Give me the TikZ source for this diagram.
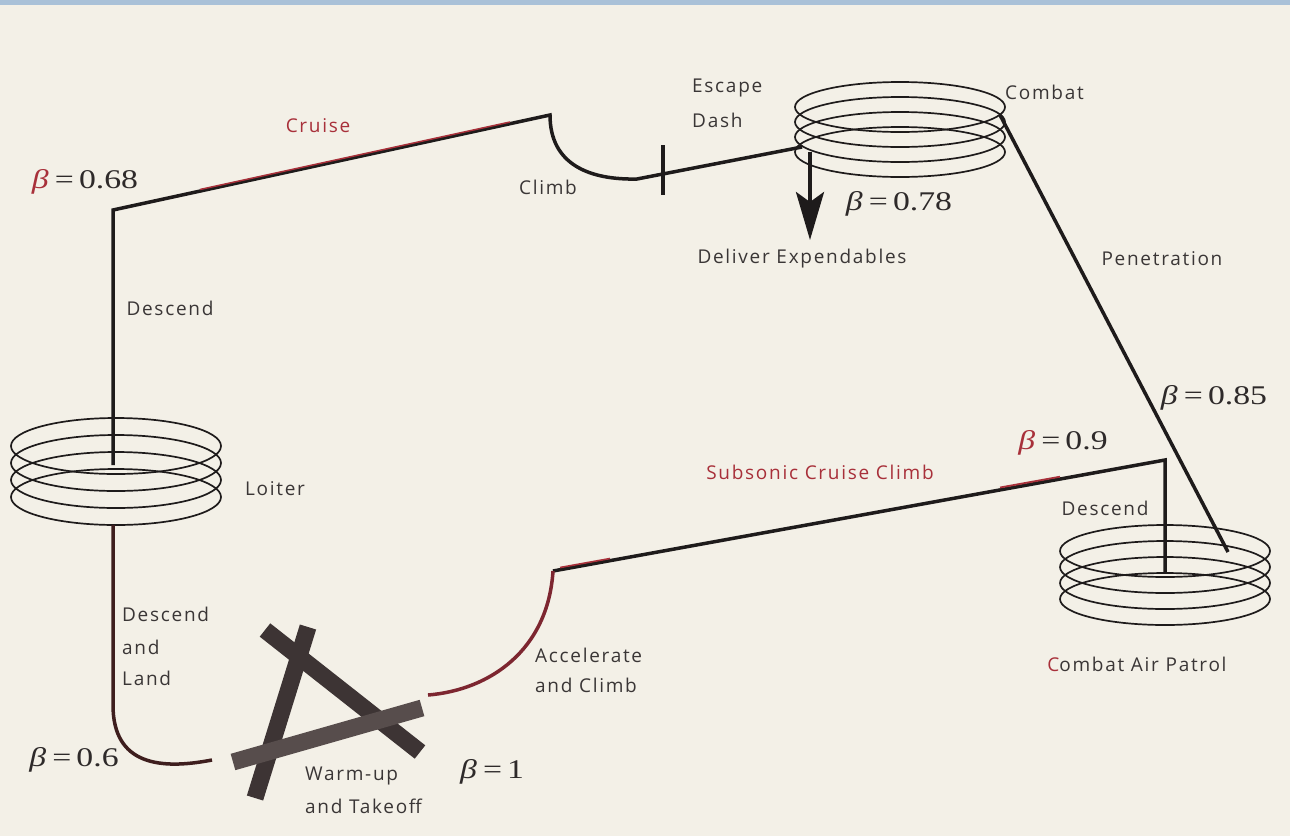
\documentclass[tikz,border=0pt]{standalone}
\usepackage{fontspec}
\setmainfont{Open Sans}[LetterSpace=9]
\newfontfamily\betafont{Liberation Serif}
\usetikzlibrary{arrows.meta}
\definecolor{paper}{HTML}{F3F0E7}
\definecolor{topbar}{HTML}{A9C1D8}
\definecolor{ink}{HTML}{1E1B1B}
\definecolor{txt}{HTML}{3A3636}
\definecolor{betaink}{HTML}{2E2A2A}
\definecolor{redink}{HTML}{A8303A}
\definecolor{darkred}{HTML}{7D2630}
\definecolor{brownink}{HTML}{3E1E1E}
\definecolor{barcol}{HTML}{3D3434}
\definecolor{barlight}{HTML}{574D4C}
\newcommand{\bt}{\textit{β}}
\newcommand{\blab}[2]{\scalebox{1.25}[1]{#1\kern5pt=\kern4pt#2}}
\tikzset{
  lbl/.style={font=\fontsize{19}{22}\selectfont, text=txt, inner sep=0pt},
  redlbl/.style={lbl, text=redink},
  betalbl/.style={font=\betafont\fontsize{27}{31}\selectfont, text=betaink, inner sep=0pt},
  route/.style={draw=ink, line width=3.5pt, line join=miter},
  coilline/.style={draw=ink, line width=1.7pt},
  tobar/.style={draw=barcol, line width=17pt},
}
\begin{document}
\begin{tikzpicture}[x=1pt,y=-1pt]
\fill[paper] (0,0) rectangle (1290,836);
\fill[topbar] (0,0) rectangle (1290,5);
\useasboundingbox (0,0) rectangle (1290,836);

% coils
\foreach \k in {0,...,3} \draw[coilline] (116,446+\k*17) ellipse [x radius=105, y radius=28];
\foreach \k in {0,...,3} \draw[coilline] (900,107+\k*15) ellipse [x radius=105, y radius=25];
\foreach \k in {0,...,3} \draw[coilline] (1165,551+\k*16) ellipse [x radius=105, y radius=26];

% key points
\coordinate (loitIn) at (113,465);
\coordinate (c68) at (113,210);
\coordinate (cruiseEnd) at (550,115);
\coordinate (climbEnd) at (637,179);
\coordinate (combIn) at (802,147);
\coordinate (combOut) at (1000,115);
\coordinate (capIn) at (1228,552);
\coordinate (capTop) at (1165,460);
\coordinate (capMid) at (1165,572);
\coordinate (accTop) at (553,571);
\coordinate (accEnd) at (428,695);
\coordinate (loitOut) at (113,525);
\coordinate (landBend) at (113,705);
\coordinate (landEnd) at (212,760);
\coordinate (arrTop) at (810,152);
\coordinate (arrTip) at (810,240);
\coordinate (tickA) at (663,145);
\coordinate (tickB) at (663,195);

% routes
\draw[route] (loitIn) -- (c68) -- (cruiseEnd)
  .. controls (550,165) and (590,180) .. (climbEnd) -- (combIn);
\draw[redink, line width=1.5pt] (200,189.5) -- (510,122);
\draw[route] (combOut) -- (capIn);
\draw[route] (capMid) -- (capTop) -- (accTop);
\draw[redink, line width=1.8pt] (1000,487.5) -- (1060,476.7);
\draw[redink, line width=1.6pt] (560,567.5) -- (610,558.5);
\draw[route, draw=darkred] (accTop) .. controls (548,650) and (490,690) .. (accEnd);
\draw[route, draw=brownink] (loitOut) -- (landBend) .. controls (113,765) and (160,770) .. (landEnd);
\draw[ink, line width=4pt] (tickA) -- (tickB);
\draw[ink, line width=4pt, -{Stealth[length=48pt, width=28pt, inset=10pt]}] (arrTop) -- (arrTip);

% warm-up and takeoff symbol
\draw[tobar] (308,627) -- (255,798);
\draw[tobar] (265,630) -- (420,752);
\draw[tobar, draw=barlight] (233,762) -- (422,708);

% labels
\node[redlbl] (cruise) at (318,126) {Cruise};
\node[lbl] (climb) at (548,187) {Climb};
\node[lbl, anchor=west] (escape) at (692,88) {Escape};
\node[lbl, anchor=west] (dash) at (692,120) {Dash};
\node[lbl, anchor=west] (combat) at (1005,92) {Combat};
\node[betalbl] (b78) at (899,204) {\blab{\bt}{0.78}};
\node[lbl] (deliver) at (802,259) {Deliver Expendables};
\node[lbl] (penet) at (1162,259) {Penetration};
\node[lbl] (desc1) at (170,308) {Descend};
\node[lbl] (loiter) at (275,489) {Loiter};
\node[betalbl] (b85) at (1214,398) {\blab{\bt}{0.85}};
\node[betalbl] (b9) at (1063,443) {\blab{{\color{redink}\bt}}{0.9}};
\node[redlbl] (subson) at (820,472) {Subsonic Cruise Climb};
\node[lbl] (desc2) at (1105,508) {Descend};
\node[lbl] (cap) at (1137,664) {{\color{redink}C}ombat Air Patrol};
\node[lbl, anchor=west] (acc1) at (535,655) {Accelerate};
\node[lbl, anchor=west] (acc2) at (535,685) {and Climb};
\node[lbl, anchor=west] (dl1) at (122,614) {Descend};
\node[lbl, anchor=west] (dl2) at (122,647) {and};
\node[lbl, anchor=west] (dl3) at (122,678) {Land};
\node[betalbl] (b6) at (74,760) {\blab{\bt}{0.6}};
\node[lbl, anchor=west] (warm1) at (305,776) {Warm-up};
\node[lbl, anchor=west] (warm2) at (305,806) {and Takeoff};
\node[betalbl] (b1) at (492,772) {\blab{\bt}{1}};
\node[betalbl] (b68) at (85,182) {\blab{{\color{redink}\bt}}{0.68}};
\end{tikzpicture}
\end{document}
